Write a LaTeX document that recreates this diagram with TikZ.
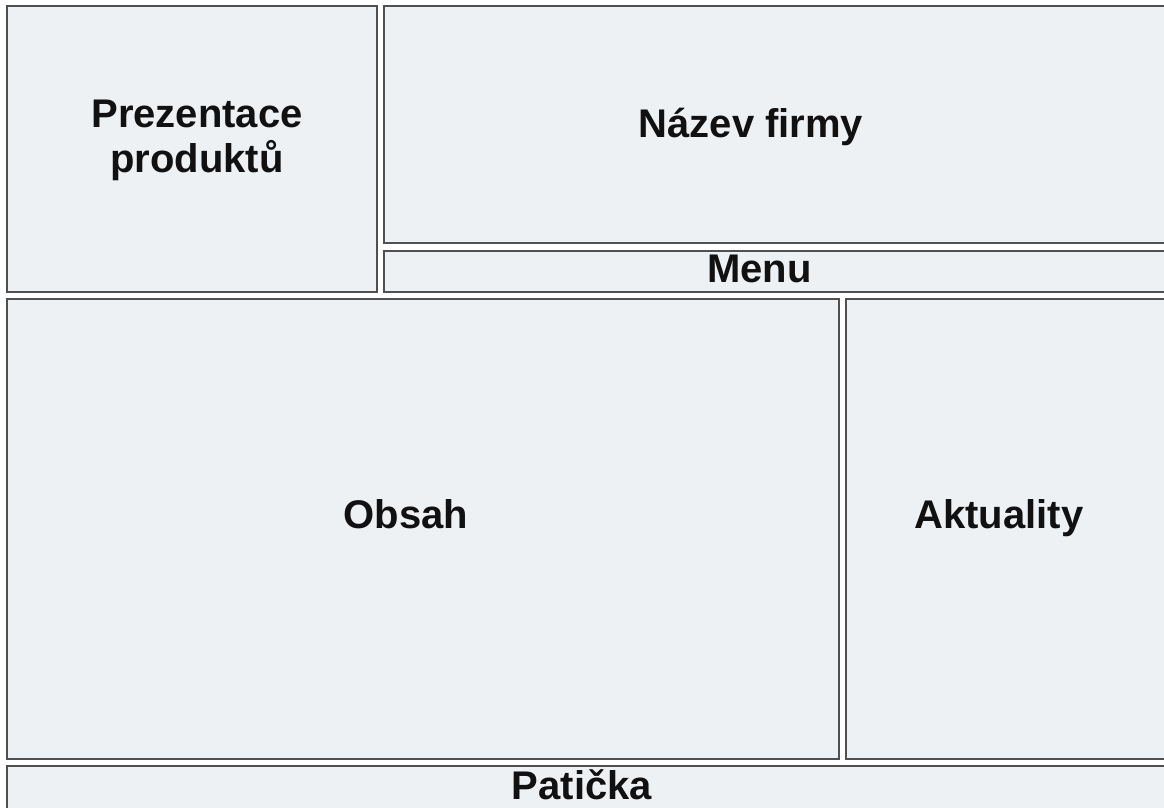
\documentclass[tikz,border=0pt]{standalone}
\usepackage{fontspec}
\setmainfont{Liberation Sans}
\definecolor{boxfill}{HTML}{EEF1F4}
\definecolor{boxline}{HTML}{505050}
\definecolor{txt}{HTML}{111111}
\begin{document}
\begin{tikzpicture}[x=1pt,y=-1pt,
  panel/.style={draw=boxline,fill=boxfill,line width=2pt,anchor=north west,inner sep=0pt,outer sep=0pt},
  lbl/.style={text=txt,font=\fontsize{40}{45}\selectfont\bfseries,align=center,inner sep=0pt,anchor=base}]
\useasboundingbox[fill=white] (0,0) rectangle (1164,807);
\clip (0,0) rectangle (1164,807);
% panels
\node[panel,minimum width=370pt,minimum height=286pt] (prez) at (7,6) {};
\node[panel,minimum width=796pt,minimum height=237pt] (nazev) at (384,6) {};
\node[panel,minimum width=796pt,minimum height=41pt] (menu) at (384,251) {};
\node[panel,minimum width=832pt,minimum height=460pt] (obsah) at (7,299) {};
\node[panel,minimum width=334pt,minimum height=460pt] (akt) at (846,299) {};
\node[panel,minimum width=1173pt,minimum height=64pt] (pat) at (7,766) {};
% labels
\node[lbl,anchor=center] (tprez) at (197,140.5) {Prezentace\\produktů};
\node[lbl] (tnazev) at (751,137) {Název firmy};
\node[lbl] (tmenu) at (759.5,282) {Menu};
\node[lbl] (tobsah) at (406,528.5) {Obsah};
\node[lbl] (takt) at (999,528.5) {Aktuality};
\node[lbl] (tpat) at (582,799) {Patička};
\end{tikzpicture}
\end{document}
